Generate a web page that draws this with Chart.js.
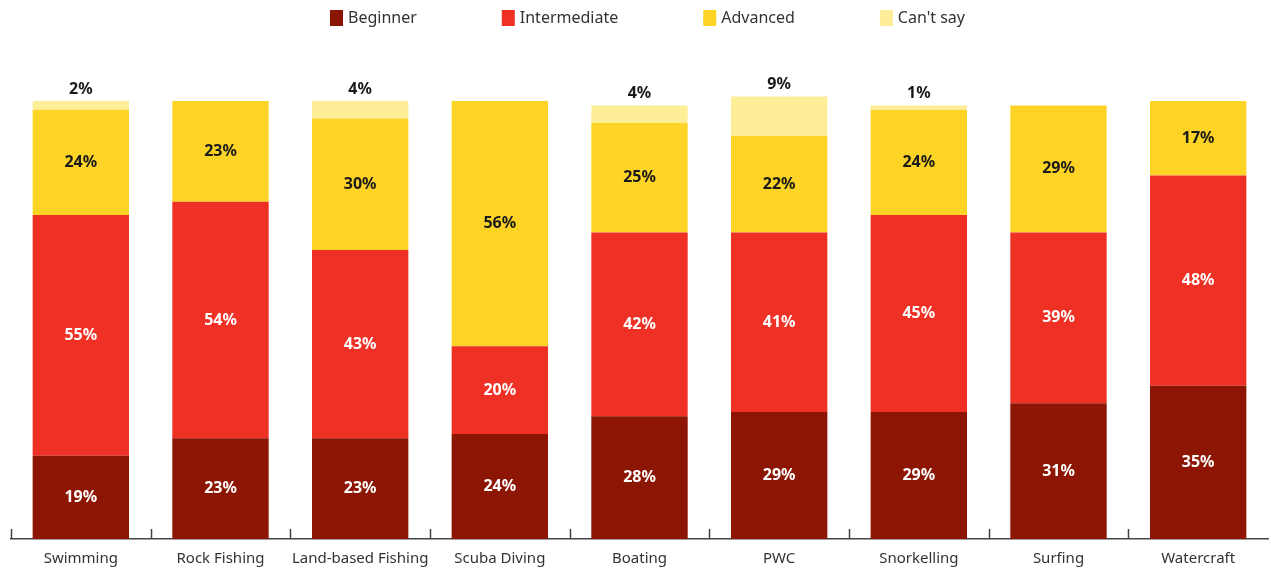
<!DOCTYPE html>
<html>
<head>
<meta charset="utf-8">
<script src="https://cdn.jsdelivr.net/npm/chart.js@4"></script>
<style>
  body { margin: 0; background: #fff; }
</style>
</head>
<body>
<canvas id="grafico" width="1271" height="572"></canvas>
<script>
const categorias = ["Swimming", "Rock Fishing", "Land-based Fishing", "Scuba Diving", "Boating", "PWC", "Snorkelling", "Surfing", "Watercraft"];
const beginner = [19, 23, 23, 24, 28, 29, 29, 31, 35];
const intermediate = [55, 54, 43, 20, 42, 41, 45, 39, 48];
const advanced = [24, 23, 30, 56, 25, 22, 24, 29, 17];
const cantSay = [2, 0, 4, 0, 4, 9, 1, 0, 0];

const cores = ["#8C1503", "#EE3124", "#FDD426", "#FEEE98"];
const fonte = "'Noto Sans', sans-serif";

// legenda desenhada à mão (espaçamento fixo entre itens)
const legendaPlugin = {
  id: "legenda",
  afterDraw(chart) {
    const ctx = chart.ctx;
    ctx.save();
    ctx.font = "16px " + fonte;
    ctx.textBaseline = "middle";
    let x = 330;
    chart.data.datasets.forEach(ds => {
      ctx.fillStyle = ds.backgroundColor;
      ctx.fillRect(x, 10, 13, 16);
      ctx.fillStyle = "#333";
      ctx.fillText(ds.label, x + 18, 18);
      x += 18 + ctx.measureText(ds.label).width + 85;
    });
    ctx.restore();
  }
};

// rótulos de valor dentro das barras e "Can't say" acima
const rotulosPlugin = {
  id: "rotulos",
  afterDatasetsDraw(chart) {
    const ctx = chart.ctx;
    ctx.save();
    ctx.font = "bold 16px " + fonte;
    ctx.textAlign = "center";
    ctx.textBaseline = "middle";
    chart.data.datasets.forEach((ds, d) => {
      const meta = chart.getDatasetMeta(d);
      meta.data.forEach((bar, i) => {
        const v = ds.data[i];
        if (!v) return;
        if (d === 3) {
          ctx.fillStyle = "#1a1a1a";
          ctx.fillText(v + "%", bar.x, bar.y - 12);
        } else {
          ctx.fillStyle = d < 2 ? "#ffffff" : "#1a1a1a";
          ctx.fillText(v + "%", bar.x, (bar.y + bar.base) / 2);
        }
      });
    });
    ctx.restore();
  }
};

// marcas do eixo x viradas para cima, entre as categorias
const marcasPlugin = {
  id: "marcas",
  afterDraw(chart) {
    const ctx = chart.ctx;
    const x = chart.scales.x;
    const passo = x.width / categorias.length;
    const base = chart.chartArea.bottom;
    ctx.save();
    ctx.strokeStyle = "#444";
    ctx.lineWidth = 1.5;
    for (let i = 0; i < categorias.length; i++) {
      const px = Math.round(x.getPixelForValue(i) - passo / 2) + 0.5;
      ctx.beginPath();
      ctx.moveTo(px, base);
      ctx.lineTo(px, base - 10);
      ctx.stroke();
    }
    ctx.restore();
  }
};

function serie(label, data, cor) {
  return {
    label: label,
    data: data,
    backgroundColor: cor,
    borderWidth: 0,
    barPercentage: 0.69,
    categoryPercentage: 1.0,
    clip: false
  };
}

new Chart(document.getElementById("grafico"), {
  type: "bar",
  data: {
    labels: categorias,
    datasets: [
      serie("Beginner", beginner, cores[0]),
      serie("Intermediate", intermediate, cores[1]),
      serie("Advanced", advanced, cores[2]),
      serie("Can't say", cantSay, cores[3])
    ]
  },
  options: {
    responsive: false,
    animation: false,
    layout: {
      padding: { top: 101, left: 11, right: 3, bottom: 4 }
    },
    plugins: {
      legend: { display: false },
      tooltip: { enabled: false }
    },
    scales: {
      x: {
        stacked: true,
        afterFit(scale) { scale.height = 29; },
        grid: { display: false, drawTicks: false },
        border: { color: "#444", width: 1.5 },
        ticks: {
          color: "#333",
          padding: 11,
          autoSkip: false,
          maxRotation: 0,
          minRotation: 0,
          font: { size: 15, family: fonte }
        }
      },
      y: {
        stacked: true,
        display: false,
        min: 0,
        max: 100
      }
    }
  },
  plugins: [legendaPlugin, rotulosPlugin, marcasPlugin]
});
</script>
</body>
</html>
